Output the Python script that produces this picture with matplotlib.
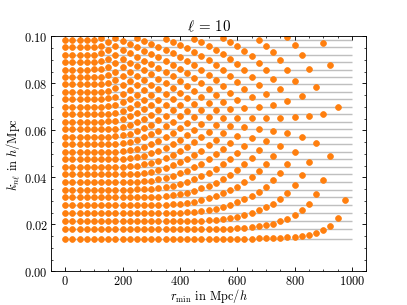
import numpy as np
import matplotlib
matplotlib.use("Agg")
import matplotlib.pyplot as plt
from matplotlib.ticker import AutoMinorLocator

ell = 10
r_max = 1000  # Mpc/h

# inner radius of the shell, Mpc/h
r_min = [0, 25, 50, 75, 100, 125, 150, 175, 200, 225, 250, 275, 300, 325,
         350, 375, 400, 425, 450, 475, 500, 525, 550, 575, 600, 625, 650,
         675, 700, 725, 750, 775, 800, 825, 850, 875, 900, 925, 950, 975]

# k_nl for the full ball (r_min = 0), grey lines; units of 1e-3 h/Mpc
k_full = [13.92, 17.85, 21.43, 24.87, 28.24, 31.55, 34.83, 38.08, 41.32,
          44.54, 47.75, 50.95, 54.15, 57.33, 60.52, 63.70, 66.87, 70.04,
          73.21, 76.38, 79.54, 82.71, 85.87, 89.03, 92.19, 95.35, 98.50]

# k_nl for each r_min (one list per column), units of 1e-3 h/Mpc
k_shell = [
    k_full,
    k_full,
    k_full,
    k_full,
    [13.92, 17.85, 21.43, 24.87, 28.24, 31.55, 34.83, 38.08, 41.32, 44.54, 47.75, 50.95, 54.15, 57.33,
     60.52, 63.70, 66.87, 70.04, 73.21, 76.38, 79.54, 82.73, 85.90, 89.07, 92.25, 95.44, 98.63],
    [13.92, 17.85, 21.43, 24.87, 28.24, 31.55, 34.83, 38.08, 41.32, 44.54, 47.75, 50.95, 54.15, 57.33,
     60.52, 63.70, 66.87, 70.08, 73.27, 76.47, 79.69, 82.91, 86.16, 89.44, 92.75, 96.07, 99.40],
    [13.92, 17.85, 21.43, 24.87, 28.24, 31.55, 34.83, 38.08, 41.32, 44.54, 47.75, 50.95, 54.15, 57.36,
     60.58, 63.80, 67.03, 70.29, 73.59, 76.92, 80.29, 83.66, 87.10, 90.55, 94.00, 97.50],
    [13.92, 17.85, 21.43, 24.87, 28.24, 31.55, 34.83, 38.08, 41.32, 44.54, 47.77, 51.00, 54.24, 57.49,
     60.78, 64.13, 67.52, 70.95, 74.41, 77.94, 81.42, 84.98, 88.56, 92.17, 95.78, 99.42],
    [13.92, 17.85, 21.43, 24.87, 28.24, 31.55, 34.83, 38.08, 41.34, 44.58, 47.85, 51.14, 54.50, 57.89,
     61.36, 64.88, 68.41, 72.01, 75.66, 79.33, 83.03, 86.75, 90.49, 94.24, 98.00],
    [13.92, 17.85, 21.43, 24.87, 28.24, 31.55, 34.83, 38.11, 41.39, 44.71, 48.08, 51.52, 55.04, 58.64,
     62.25, 65.95, 69.70, 73.49, 77.29, 81.13, 84.98, 88.85, 92.73, 96.63],
    [13.92, 17.85, 21.43, 24.87, 28.24, 31.56, 34.86, 38.18, 41.55, 44.99, 48.54, 52.17, 55.86, 59.64,
     63.49, 67.37, 71.29, 75.24, 79.21, 83.20, 87.21, 91.24, 95.28, 99.33],
    [13.92, 17.85, 21.43, 24.87, 28.25, 31.58, 34.93, 38.33, 41.86, 45.49, 49.25, 53.06, 56.98, 60.96,
     64.97, 69.04, 73.13, 77.25, 81.38, 85.54, 89.72, 93.91, 98.11],
    [13.92, 17.85, 21.43, 24.87, 28.27, 31.64, 35.09, 38.66, 42.39, 46.23, 50.18, 54.22, 58.33, 62.50,
     66.71, 70.95, 75.21, 79.51, 83.82, 88.15, 92.50, 96.86],
    [13.92, 17.85, 21.43, 24.88, 28.30, 31.77, 35.38, 39.15, 43.09, 47.16, 51.34, 55.59, 59.90, 64.26,
     68.66, 73.09, 77.54, 82.02, 86.52, 91.03, 95.56],
    [13.92, 17.85, 21.43, 24.91, 28.39, 32.00, 35.81, 39.83, 44.00, 48.30, 52.69, 57.16, 61.68, 66.25,
     70.84, 75.47, 80.12, 84.80, 89.49, 94.19, 98.91],
    [13.92, 17.85, 21.44, 24.95, 28.55, 32.37, 36.42, 40.67, 45.10, 49.64, 54.26, 58.95, 63.68, 68.46,
     73.27, 78.11, 82.97, 87.86, 92.75, 97.66],
    [13.92, 17.85, 21.46, 25.03, 28.80, 32.81, 37.16, 41.71, 46.39, 51.17, 56.03, 60.95, 65.92, 70.93,
     75.96, 81.03, 86.11, 91.21, 96.33],
    [13.92, 17.85, 21.49, 25.16, 29.13, 33.46, 38.11, 42.91, 47.86, 52.90, 58.01, 63.19, 68.40, 73.66,
     78.94, 84.24, 89.56, 94.90],
    [13.92, 17.86, 21.55, 25.41, 29.65, 34.30, 39.22, 44.32, 49.54, 54.85, 60.24, 65.68, 71.16, 76.68,
     82.22, 87.78, 93.37, 98.96],
    [13.92, 17.88, 21.63, 25.67, 30.31, 35.28, 40.51, 45.91, 51.43, 57.05, 62.73, 68.46, 74.23, 80.03,
     85.86, 91.71, 97.57],
    [13.92, 17.90, 21.82, 26.12, 31.12, 36.43, 42.00, 47.73, 53.58, 59.52, 65.52, 71.57, 77.66, 83.77,
     89.91, 96.07],
    [13.92, 17.95, 21.99, 26.74, 32.06, 37.76, 43.70, 49.79, 56.00, 62.29, 68.64, 75.03, 81.46, 87.92,
     94.40],
    [13.93, 17.99, 22.37, 27.46, 33.20, 39.30, 45.64, 52.12, 58.73, 65.40, 72.14, 78.91, 85.72, 92.56,
     99.41],
    [13.94, 18.11, 22.73, 28.35, 34.53, 41.08, 47.86, 54.79, 61.82, 68.93, 76.09, 83.29, 90.52, 97.77],
    [13.95, 18.27, 23.31, 29.40, 36.09, 43.13, 50.40, 57.82, 65.34, 72.92, 80.56, 88.24, 95.94],
    [13.97, 18.49, 24.05, 30.66, 37.91, 45.51, 53.34, 61.30, 69.36, 77.49, 85.66, 93.87],
    [13.99, 18.82, 24.90, 32.16, 40.04, 48.27, 56.73, 65.31, 73.99, 82.73, 91.52],
    [14.04, 19.17, 25.96, 33.95, 42.56, 51.52, 60.69, 69.99, 79.38, 88.82, 98.31],
    [14.11, 19.67, 27.27, 36.10, 45.55, 55.35, 65.36, 75.48, 85.69, 95.95],
    [14.21, 20.38, 28.89, 38.70, 49.14, 59.93, 70.91, 82.01, 93.19],
    [14.34, 21.27, 30.90, 41.88, 53.51, 65.47, 77.62, 89.88],
    [14.53, 22.43, 33.42, 45.84, 58.91, 72.29, 85.86, 99.53],
    [14.79, 23.95, 36.65, 50.86, 65.70, 80.87, 96.20],
    [15.14, 25.98, 40.88, 57.37, 74.50, 91.94],
    [15.70, 28.76, 46.62, 66.14, 86.30],
    [16.33, 32.74, 54.75, 78.51],
    [17.51, 38.83, 67.09, 97.18],
    [19.33, 49.12, 87.79],
    [22.60, 69.88],
    [30.43],
]

plt.rcParams.update({
    "font.family": "serif",
    "font.serif": ["cmr10"],
    "mathtext.fontset": "cm",
    "axes.formatter.use_mathtext": True,
    "axes.unicode_minus": False,
    "font.size": 14,
    "axes.titlesize": 17,
})

fig, ax = plt.subplots(figsize=(6.4, 4.8), dpi=63.6)

ax.hlines(np.array(k_full) * 1e-3, 0, r_max, color="0.75", lw=1.6, zorder=1)

for r, ks in zip(r_min, k_shell):
    ax.plot([r] * len(ks), np.array(ks) * 1e-3, "o", color="C1", ms=6.6,
            mew=0.8, zorder=2)

ax.set_ylim(0, 0.1)
ax.set_title(r"$\ell\,=\,%d$" % ell)
ax.set_xlabel(r"$r_\mathrm{min}$ in $\mathrm{Mpc}/h$", labelpad=-0.5)
ax.set_ylabel(r"$k_{n\ell}$ in $h/\mathrm{Mpc}$", labelpad=2)

ax.xaxis.set_minor_locator(AutoMinorLocator())
ax.yaxis.set_minor_locator(AutoMinorLocator())
ax.tick_params(which="both", direction="in", top=True, right=True)
ax.tick_params(which="major", length=4.5, width=1.0)
ax.tick_params(which="minor", length=2.5, width=0.8)
for s in ax.spines.values():
    s.set_linewidth(1.0)

fig.savefig("out.png", dpi=63.6)
